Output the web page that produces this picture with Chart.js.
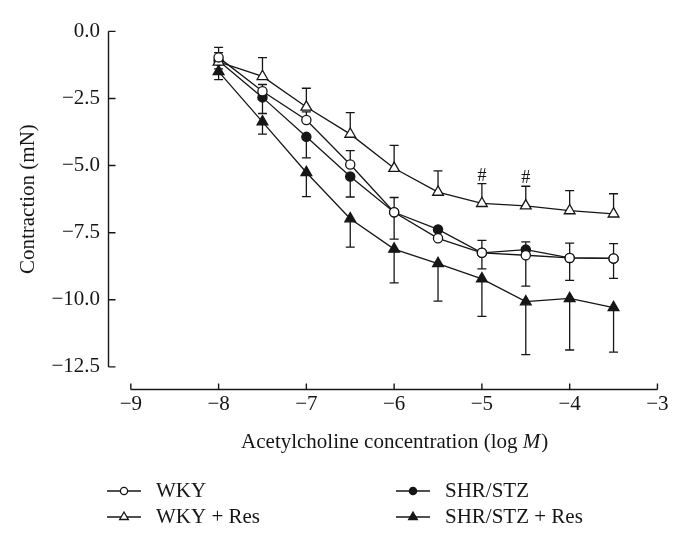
<!DOCTYPE html>
<html>
<head>
<meta charset="utf-8">
<script src="https://cdn.jsdelivr.net/npm/chart.js@4.4.1/dist/chart.umd.min.js"></script>
<style>
  html, body { margin: 0; padding: 0; background: #fff; }
  #wrap { width: 683px; height: 539px; }
</style>
</head>
<body>
<div id="wrap"><canvas id="chart" width="683" height="539"></canvas></div>
<script>
// log M concentrations
const concentrations = [-8, -7.5, -7, -6.5, -6, -5.5, -5, -4.5, -4, -3.5];

// mean contraction (mN) and SEM
const wky       = [-0.97, -2.23, -3.30, -4.96, -6.74, -7.71, -8.25, -8.34, -8.44, -8.46];
const wkyErr    = [0.37, 0.25, 0.30, 0.52, 0.55, 0.35, 0.46, 0.50, 0.55, 0.55];
const wkyRes    = [-1.14, -1.68, -2.82, -3.83, -5.10, -5.99, -6.41, -6.50, -6.68, -6.80];
const wkyResErr = [0.35, 0.70, 0.70, 0.80, 0.85, 0.79, 0.74, 0.73, 0.75, 0.75];
const shr       = [-1.10, -2.46, -3.93, -5.41, -6.74, -7.38, -8.25, -8.13, -8.44, -8.46];
const shrErr    = [0.30, 0.60, 0.78, 0.76, 1.00, 0.30, 0.60, 1.36, 0.84, 0.74];
const shrRes    = [-1.50, -3.37, -5.26, -6.98, -8.11, -8.65, -9.22, -10.07, -9.95, -10.29];
const shrResErr = [0.30, 0.46, 0.90, 1.06, 1.26, 1.40, 1.40, 1.97, 1.92, 1.66];

const xTickValues = [-9, -8, -7, -6, -5, -4, -3];
const yTickValues = [0, -2.5, -5, -7.5, -10, -12.5];
const hashMarks = [-5, -4.5];   // '#' over WKY + Res

const INK = '#161616';
const SERIF = '"Liberation Serif", "Times New Roman", serif';
const FS = 21;

const fmtNum = (v, digits) => {
  const s = Math.abs(v).toFixed(digits);
  return v < 0 ? '\u2212' + s : s;
};

function makeSet(label, values, errors, dir, style, filled) {
  return {
    label,
    data: concentrations.map((c, i) => ({ x: c, y: values[i] })),
    errors, errDir: dir,
    showLine: true,
    borderColor: INK,
    borderWidth: 1.3,
    tension: 0,
    pointStyle: style,
    pointRadius: style === 'triangle' ? 6.2 : 4.6,
    pointBorderWidth: 1.3,
    pointBorderColor: INK,
    pointBackgroundColor: filled ? INK : '#fff',
    clip: false
  };
}

const datasets = [
  makeSet('WKY', wky, wkyErr, 1, 'circle', false),
  makeSet('WKY + Res', wkyRes, wkyResErr, 1, 'triangle', false),
  makeSet('SHR/STZ', shr, shrErr, -1, 'circle', true),
  makeSet('SHR/STZ + Res', shrRes, shrResErr, -1, 'triangle', true)
];

const decorPlugin = {
  id: 'decor',
  beforeDatasetsDraw(chart) {
    const { ctx, chartArea, scales: { x, y } } = chart;
    ctx.save();
    ctx.strokeStyle = INK;
    ctx.lineWidth = 1.4;
    ctx.beginPath();
    // detached y axis, ticks pointing inward
    const yl = chartArea.left + 0.5;
    ctx.moveTo(yl, y.getPixelForValue(yTickValues[0]));
    ctx.lineTo(yl, y.getPixelForValue(yTickValues[yTickValues.length - 1]));
    yTickValues.forEach(v => {
      const p = y.getPixelForValue(v);
      ctx.moveTo(yl, p); ctx.lineTo(yl + 7, p);
    });
    // detached x axis
    const xb = chartArea.bottom - 0.5;
    ctx.moveTo(x.getPixelForValue(xTickValues[0]), xb);
    ctx.lineTo(x.getPixelForValue(xTickValues[xTickValues.length - 1]), xb);
    xTickValues.forEach(v => {
      const p = x.getPixelForValue(v);
      ctx.moveTo(p, xb); ctx.lineTo(p, xb - 6);
    });
    ctx.stroke();

    // one-sided error bars
    ctx.lineWidth = 1.3;
    ctx.beginPath();
    chart.data.datasets.forEach(ds => {
      ds.data.forEach((pt, j) => {
        const px = x.getPixelForValue(pt.x);
        const p0 = y.getPixelForValue(pt.y);
        const p1 = y.getPixelForValue(pt.y + ds.errDir * ds.errors[j]);
        ctx.moveTo(px, p0); ctx.lineTo(px, p1);
        ctx.moveTo(px - 4.5, p1); ctx.lineTo(px + 4.5, p1);
      });
    });
    ctx.stroke();

    // significance marks
    ctx.fillStyle = INK;
    ctx.font = '18px ' + SERIF;
    ctx.textAlign = 'center';
    ctx.textBaseline = 'alphabetic';
    hashMarks.forEach(c => {
      const j = concentrations.indexOf(c);
      const top = wkyRes[j] + wkyResErr[j];
      ctx.fillText('#', x.getPixelForValue(c), y.getPixelForValue(top) - 3);
    });
    ctx.restore();
  },
  afterDraw(chart) {
    const { ctx, scales: { x, y } } = chart;
    ctx.save();
    ctx.fillStyle = INK;
    ctx.textBaseline = 'middle';

    // y title
    ctx.save();
    ctx.translate(28, (y.getPixelForValue(yTickValues[0]) + y.getPixelForValue(yTickValues[yTickValues.length - 1])) / 2);
    ctx.rotate(-Math.PI / 2);
    ctx.textAlign = 'center';
    ctx.font = FS + 'px ' + SERIF;
    ctx.fillText('Contraction (mN)', 0, 0);
    ctx.restore();

    // x title with italic M
    const normal = FS + 'px ' + SERIF, italic = 'italic ' + FS + 'px ' + SERIF;
    const parts = [['Acetylcholine concentration (log ', normal], ['M', italic], [')', normal]];
    let w = 0;
    parts.forEach(([t, f]) => { ctx.font = f; w += ctx.measureText(t).width; });
    let tx = (x.getPixelForValue(xTickValues[0]) + x.getPixelForValue(xTickValues[xTickValues.length - 1])) / 2 - w / 2;
    ctx.textAlign = 'left';
    parts.forEach(([t, f]) => { ctx.font = f; ctx.fillText(t, tx, 442); tx += ctx.measureText(t).width + (f === italic ? 1 : 0); });

    // legend, two columns
    const cols = [107, 396], rows = [491, 517];
    chart.data.datasets.forEach((ds, i) => {
      const cx = cols[Math.floor(i / 2)], cy = rows[i % 2];
      ctx.strokeStyle = INK;
      ctx.lineWidth = 1.3;
      ctx.beginPath();
      ctx.moveTo(cx, cy); ctx.lineTo(cx + 34, cy);
      ctx.stroke();
      ctx.fillStyle = ds.pointBackgroundColor;
      Chart.helpers.drawPoint(ctx, {
        pointStyle: ds.pointStyle,
        radius: ds.pointStyle === 'triangle' ? 5 : 3.6,
        borderWidth: 1.2,
        rotation: 0
      }, cx + 17, cy);
      ctx.fillStyle = INK;
      ctx.font = FS + 'px ' + SERIF;
      ctx.fillText(ds.label, cx + 49, cy);
    });
    ctx.restore();
  }
};

new Chart(document.getElementById('chart'), {
  type: 'scatter',
  data: { datasets },
  options: {
    responsive: false,
    animation: false,
    layout: { padding: { left: 0, top: 12, right: 8, bottom: 79 } },
    plugins: { legend: { display: false }, tooltip: { enabled: false } },
    scales: {
      x: {
        type: 'linear',
        min: -9.26,
        max: -2.8,
        border: { display: false },
        grid: { display: false, drawTicks: false },
        afterBuildTicks: s => { s.ticks = xTickValues.map(v => ({ value: v })); },
        afterFit: s => { s.height = 70; },
        ticks: {
          autoSkip: false, maxRotation: 0, padding: 2,
          color: INK, font: { family: SERIF, size: FS },
          callback: v => fmtNum(v, 0)
        }
      },
      y: {
        type: 'linear',
        min: -13.36,
        max: 0.4,
        border: { display: false },
        grid: { display: false, drawTicks: false },
        afterBuildTicks: s => { s.ticks = yTickValues.map(v => ({ value: v })); },
        afterFit: s => { s.width = 108; },
        ticks: {
          autoSkip: false, padding: 8,
          color: INK, font: { family: SERIF, size: FS },
          callback: v => fmtNum(v, 1)
        }
      }
    }
  },
  plugins: [decorPlugin]
});
</script>
</body>
</html>
